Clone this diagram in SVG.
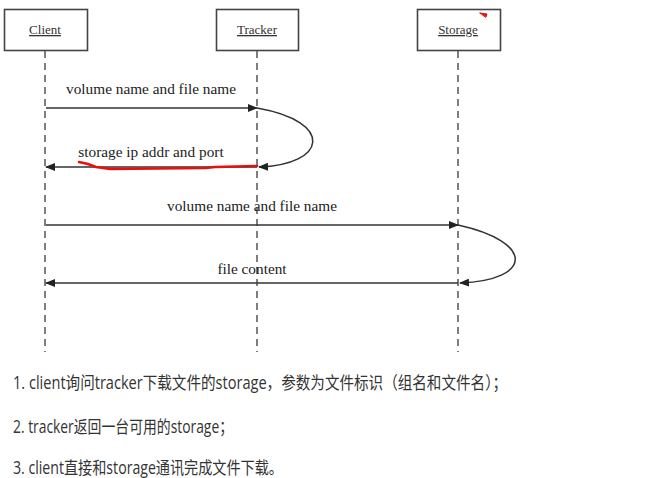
<svg xmlns="http://www.w3.org/2000/svg" width="656" height="478" viewBox="0 0 656 478">
<defs>
<marker id="ah" markerWidth="10" markerHeight="8" refX="9" refY="4" orient="auto" markerUnits="userSpaceOnUse">
<path d="M0,0 L10,4 L0,8 Z" fill="#222"/>
</marker>
<style>
.box{fill:#fff;stroke:#444;stroke-width:1.6}
.ttl{font-family:"Liberation Serif",serif;font-size:13px;fill:#333;text-anchor:middle;text-decoration:underline}
.life{stroke:#555;stroke-width:1.5;stroke-dasharray:7 5;fill:none}
.msg{stroke:#333;stroke-width:1.5;fill:none}
.lbl{font-family:"Liberation Serif",serif;font-size:15.3px;fill:#222;text-anchor:middle}
.note{font-family:"Open Sans","Noto Sans CJK SC",sans-serif;font-size:17.5px;fill:#333}
</style>
</defs>
<rect width="656" height="478" fill="#fff"/>
<g id="client">
<rect class="box" x="4.5" y="9.5" width="83" height="41"/>
<text class="ttl" x="45" y="34">Client</text>
</g>
<g id="tracker">
<rect class="box" x="216.5" y="9.5" width="82" height="41"/>
<text class="ttl" x="257" y="34">Tracker</text>
</g>
<g id="storage">
<rect class="box" x="417.5" y="9.5" width="83" height="41"/>
<text class="ttl" x="458" y="34">Storage</text>
</g>
<g id="lifelines">
<line class="life" x1="45" y1="51" x2="45" y2="352"/>
<line class="life" x1="257" y1="51" x2="257" y2="352"/>
<line class="life" x1="458" y1="51" x2="458" y2="352"/>
</g>
<g id="connectors">
<line class="msg" x1="46" y1="108" x2="257" y2="108" marker-end="url(#ah)"/>
<path class="msg" d="M257,108 C336,122 326,165 259,167" marker-end="url(#ah)"/>
<line class="msg" x1="257" y1="167" x2="46" y2="167" marker-end="url(#ah)"/>
<line class="msg" x1="46" y1="225" x2="458" y2="225" marker-end="url(#ah)"/>
<path class="msg" d="M458,225 C535,242 533,280 460,283" marker-end="url(#ah)"/>
<line class="msg" x1="458" y1="283" x2="46" y2="283" marker-end="url(#ah)"/>
</g>
<g id="labels">
<text class="lbl" x="151" y="94">volume name and file name</text>
<text class="lbl" x="151" y="157">storage ip addr and port</text>
<text class="lbl" x="252" y="211">volume name and file name</text>
<text class="lbl" x="252" y="274">file content</text>
</g>
<g id="marks" fill="none" stroke="#e8100c" stroke-width="2.5" stroke-linecap="round">
<path d="M79,162 L88,164 L96,167 L110,169 L206,168 L215,167 L257,166"/>
<path d="M480,13 L487,14 L486,17 Z" fill="#e8100c" stroke-width="1"/>
</g>
<g id="notes">
<text class="note" x="13" y="389" textLength="494" lengthAdjust="spacingAndGlyphs">1. client询问tracker下载文件的storage，参数为文件标识（组名和文件名）；</text>
<text class="note" x="13" y="433" textLength="220" lengthAdjust="spacingAndGlyphs">2. tracker返回一台可用的storage；</text>
<text class="note" x="13" y="474" textLength="270" lengthAdjust="spacingAndGlyphs">3. client直接和storage通讯完成文件下载。</text>
</g>
</svg>
